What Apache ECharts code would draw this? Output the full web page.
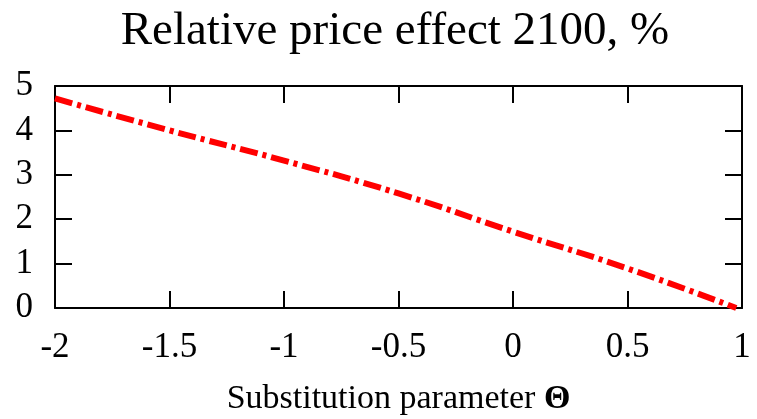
<!DOCTYPE html>
<html>
<head>
<meta charset="utf-8">
<script src="https://cdn.jsdelivr.net/npm/echarts@6/dist/echarts.min.js"></script>
<style>html,body{margin:0;padding:0;background:#fff;}#c{width:757px;height:419px;}</style>
</head>
<body>
<div id="c"></div>
<script>
const titleText = 'Relative price effect 2100, %';
const xAxisNameText = 'Substitution parameter ';
const xAxisNameSymbol = '\u0398';
const thetaValues = [-2, -1.5, -1, -0.5, 0, 0.5, 0.975];
const priceEffect = [4.72, 4.0, 3.32, 2.58, 1.72, 0.89, 0];
const xTicks = [-2, -1.5, -1, -0.5, 0, 0.5, 1];
const yTicks = [0, 1, 2, 3, 4, 5];

const FONT = '"Liberation Serif", "DejaVu Serif", serif';
const chart = echarts.init(document.getElementById('c'), null, {renderer: 'canvas'});
const axisLine = {show: true, onZero: false, lineStyle: {color: '#000', width: 2}};
const tick = {show: true, inside: true, length: 17, lineStyle: {color: '#000', width: 2}};
const fmt = list => v => String(list.find(t => Math.abs(t - v) < 1e-9) ?? v);
chart.setOption({
  animation: false,
  backgroundColor: '#fff',
  title: {
    text: titleText, left: 390, top: 3, textAlign: 'center',
    textStyle: {fontFamily: FONT, fontWeight: 'normal', fontSize: 47, color: '#000'}
  },
  grid: {left: 55, right: 15, top: 86, bottom: 111, containLabel: false, outerBoundsMode: 'none'},
  xAxis: [{
    type: 'value', min: -2, max: 1, interval: 0.5, position: 'bottom',
    axisLine: axisLine, axisTick: tick, splitLine: {show: false},
    axisLabel: {fontFamily: FONT, fontSize: 35, color: '#000', margin: 22, formatter: fmt(xTicks)},
    name: '{n|' + xAxisNameText + '}{b|' + xAxisNameSymbol + '}', nameLocation: 'middle', nameGap: 74,
    nameTextStyle: {
      rich: {
        n: {fontFamily: FONT, fontSize: 34, color: '#000'},
        b: {fontFamily: FONT, fontSize: 34, color: '#000', fontWeight: 'bold'}
      }
    }
  }, {
    type: 'value', min: -2, max: 1, interval: 0.5, position: 'top',
    axisLine: axisLine, axisTick: tick, axisLabel: {show: false}, splitLine: {show: false}
  }],
  yAxis: [{
    type: 'value', min: 0, max: 5, interval: 1, position: 'left',
    axisLine: axisLine, axisTick: tick, splitLine: {show: false},
    axisLabel: {fontFamily: FONT, fontSize: 35, color: '#000', margin: 22, formatter: fmt(yTicks)}
  }, {
    type: 'value', min: 0, max: 5, interval: 1, position: 'right',
    axisLine: axisLine, axisTick: tick, axisLabel: {show: false}, splitLine: {show: false}
  }],
  series: [{
    type: 'line',
    xAxisIndex: 0, yAxisIndex: 0,
    data: thetaValues.map((t, i) => [t, priceEffect[i]]),
    smooth: true, symbol: 'none', clip: false,
    lineStyle: {color: '#ff0000', width: 6, type: [18, 5, 4, 5], cap: 'butt'}
  }]
});
</script>
</body>
</html>
